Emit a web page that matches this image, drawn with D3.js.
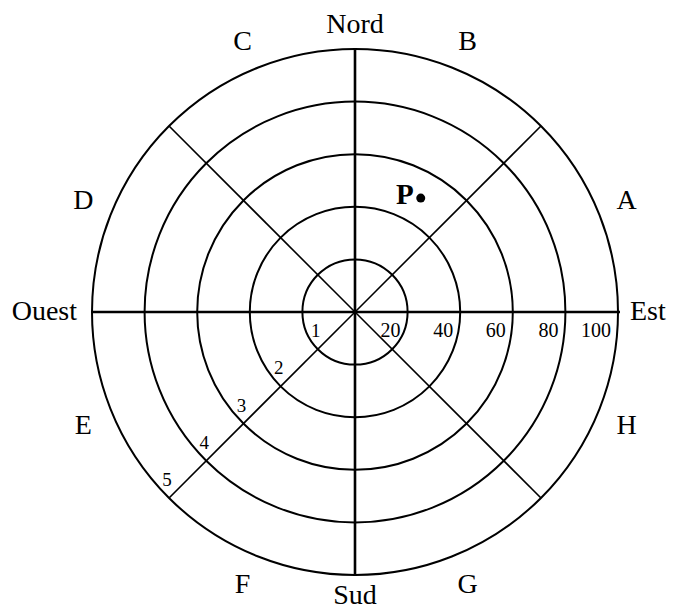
<!DOCTYPE html>
<html>
<head>
<meta charset="utf-8">
<script src="https://cdn.jsdelivr.net/npm/d3@7"></script>
<style>
  body { margin: 0; background: #fff; }
  text { font-family: "Liberation Serif", "DejaVu Serif", serif; fill: #000; }
</style>
</head>
<body>
<div id="chart"></div>
<script>
// rings (distance values) and their labels
const rings = [20, 40, 60, 80, 100];
const ringIndex = ["1", "2", "3", "4", "5"];
const sectors = ["A", "B", "C", "D", "E", "F", "G", "H"];   // counter-clockwise from east
const cardinals = ["Est", "Nord", "Ouest", "Sud"];
const pointP = { name: "P", dist: 50, bearing: 30 };        // bearing in degrees from north

const width = 673, height = 612;
const cx = 355, cy = 312;

const svg = d3.select("#chart").append("svg")
    .attr("width", width)
    .attr("height", height);

const r = d3.scaleLinear().domain([0, 100]).range([0, 263]);

const g = svg.append("g").attr("transform", `translate(${cx},${cy})`);

// concentric circles
g.selectAll(".ring")
    .data(rings)
    .enter()
    .append("circle")
    .attr("class", "ring")
    .attr("r", d => r(d))
    .attr("fill", "none")
    .attr("stroke", "#000")
    .attr("stroke-width", 2);

// diagonals (thin)
g.selectAll(".diag")
    .data([45, 135, 225, 315])
    .enter()
    .append("line")
    .attr("class", "diag")
    .attr("x1", 0).attr("y1", 0)
    .attr("x2", d => r(100) * Math.cos(d * Math.PI / 180))
    .attr("y2", d => -r(100) * Math.sin(d * Math.PI / 180))
    .attr("stroke", "#000")
    .attr("stroke-width", 1.6);

// main axes (thick)
g.append("line")
    .attr("x1", -r(100)).attr("x2", r(100) + 2)
    .attr("y1", 0).attr("y2", 0)
    .attr("stroke", "#000").attr("stroke-width", 2.6);
g.append("line")
    .attr("x1", 0).attr("x2", 0)
    .attr("y1", -r(100)).attr("y2", r(100))
    .attr("stroke", "#000").attr("stroke-width", 2.6);

// distance labels along east axis
g.selectAll(".dist")
    .data(rings)
    .enter()
    .append("text")
    .attr("class", "dist")
    .attr("x", d => r(d) - 7)
    .attr("y", 25)
    .attr("text-anchor", "end")
    .attr("font-size", 20)
    .text(d => d);

// ring numbers along south-west diagonal
g.selectAll(".idx")
    .data(rings)
    .enter()
    .append("text")
    .attr("class", "idx")
    .attr("x", d => -r(d) * Math.SQRT1_2 - 2)
    .attr("y", d => r(d) * Math.SQRT1_2 - 12)
    .attr("text-anchor", "middle")
    .attr("font-size", 19)
    .text((d, i) => ringIndex[i]);

// sector letters
g.selectAll(".sector")
    .data(sectors)
    .enter()
    .append("text")
    .attr("class", "sector")
    .attr("x", (d, i) => 294 * Math.cos((22.5 + 45 * i) * Math.PI / 180))
    .attr("y", (d, i) => -294 * Math.sin((22.5 + 45 * i) * Math.PI / 180))
    .attr("dy", "0.35em")
    .attr("text-anchor", "middle")
    .attr("font-size", 28)
    .text(d => d);

// cardinal directions
const cardPos = [
    { x: r(100) + 12, y: 8, anchor: "start" },
    { x: 0, y: -279, anchor: "middle" },
    { x: -r(100) - 15, y: 8, anchor: "end" },
    { x: 0, y: 292, anchor: "middle" }
];
g.selectAll(".card")
    .data(cardinals)
    .enter()
    .append("text")
    .attr("class", "card")
    .attr("x", (d, i) => cardPos[i].x)
    .attr("y", (d, i) => cardPos[i].y)
    .attr("text-anchor", (d, i) => cardPos[i].anchor)
    .attr("font-size", 28)
    .text(d => d);

// point P
const a = pointP.bearing * Math.PI / 180;
const px = r(pointP.dist) * Math.sin(a), py = -r(pointP.dist) * Math.cos(a);
g.append("circle")
    .attr("cx", px).attr("cy", py)
    .attr("r", 4.5)
    .attr("fill", "#000");
g.append("text")
    .attr("x", px - 7).attr("y", py + 6)
    .attr("text-anchor", "end")
    .attr("font-size", 29)
    .attr("font-weight", "bold")
    .text(pointP.name);
</script>
</body>
</html>
